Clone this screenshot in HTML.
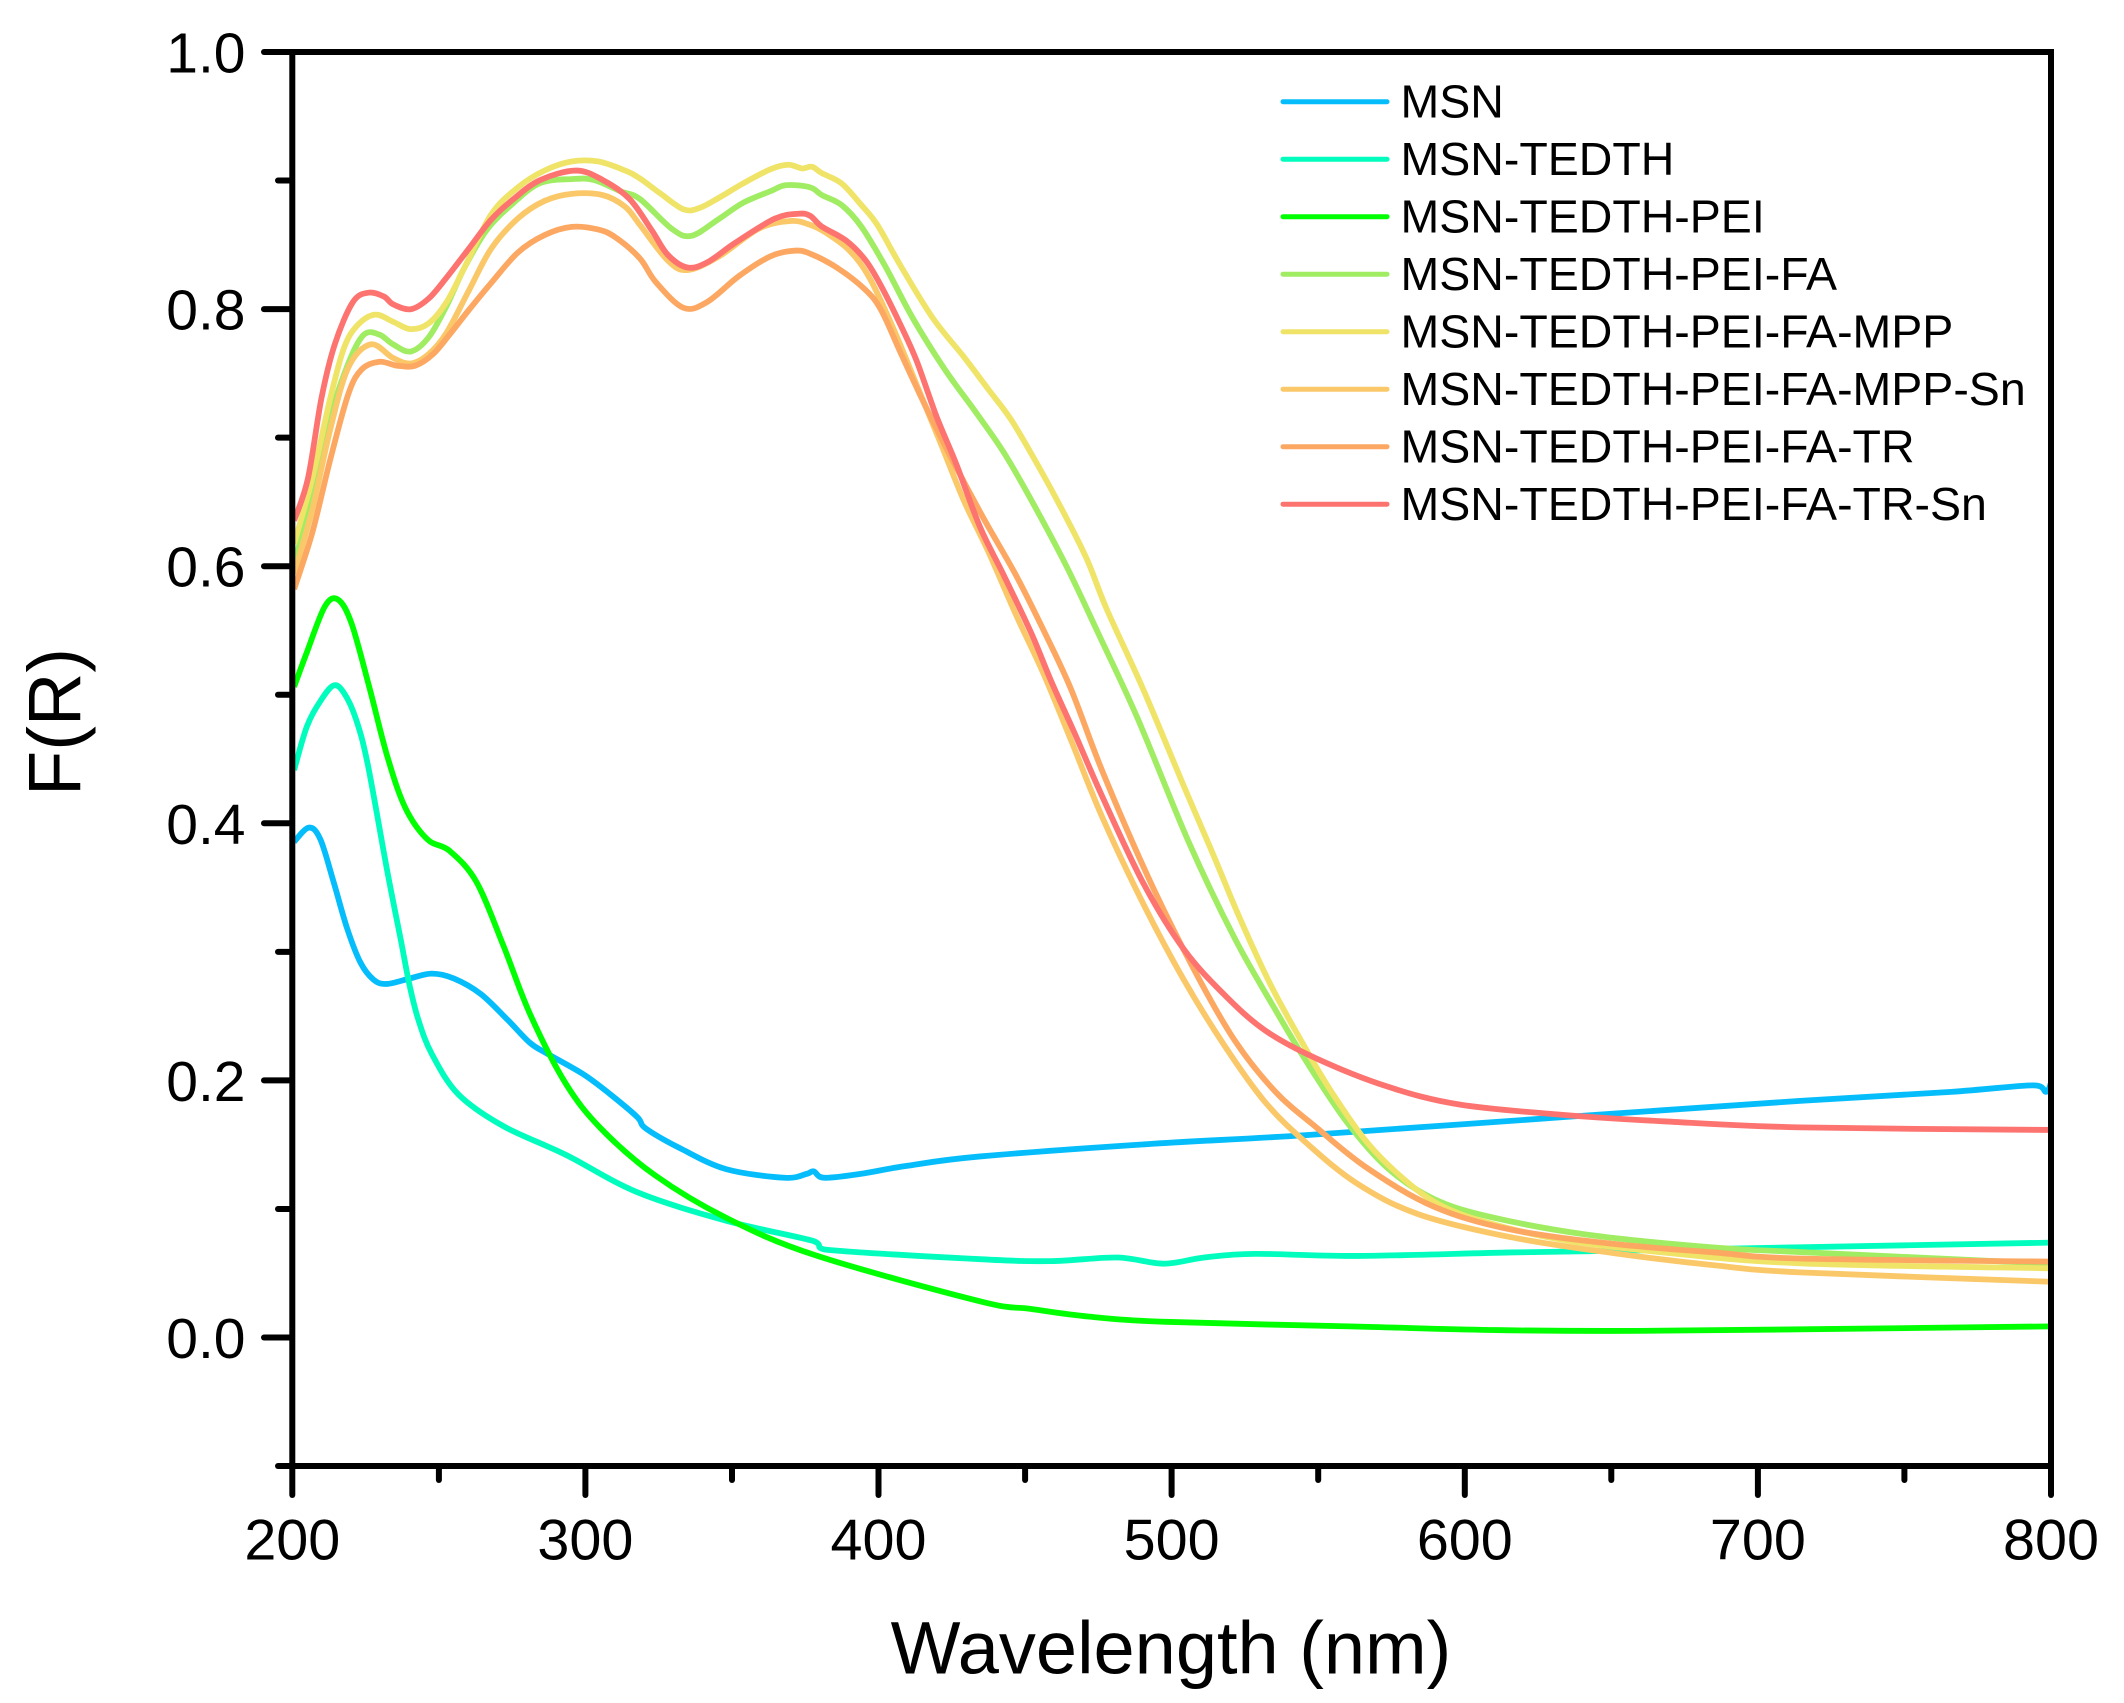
<!DOCTYPE html>
<html>
<head>
<meta charset="utf-8">
<style>
  html, body { margin: 0; padding: 0; background: #ffffff; }
  svg { display: block; }
  text { font-family: "Liberation Sans", Arial, sans-serif; fill: #000; }
</style>
</head>
<body>
<svg id="chart" xmlns="http://www.w3.org/2000/svg" width="2124" height="1703" viewBox="0 0 2124 1703">
  <rect x="0" y="0" width="2124" height="1703" fill="#ffffff"/>
  <defs>
    <clipPath id="plotclip">
      <rect x="292.3" y="52" width="1758.7" height="1414"/>
    </clipPath>
  </defs>
  <g id="curves" clip-path="url(#plotclip)" fill="none" stroke-width="5.8" stroke-linejoin="round"></g>

  <!-- frame -->
  <path d="M292.3 52 L2051 52 L2051 1466 L292.3 1466 Z" fill="none" stroke="#000" stroke-width="6" stroke-linejoin="miter"/>

  <!-- y ticks -->
  <g stroke="#000" stroke-width="6" stroke-linecap="round">
    <line x1="264" y1="52" x2="292" y2="52"/>
    <line x1="264" y1="309.1" x2="292" y2="309.1"/>
    <line x1="264" y1="566.2" x2="292" y2="566.2"/>
    <line x1="264" y1="823.3" x2="292" y2="823.3"/>
    <line x1="264" y1="1080.4" x2="292" y2="1080.4"/>
    <line x1="264" y1="1337.5" x2="292" y2="1337.5"/>
    <line x1="278" y1="180.55" x2="292" y2="180.55"/>
    <line x1="278" y1="437.65" x2="292" y2="437.65"/>
    <line x1="278" y1="694.75" x2="292" y2="694.75"/>
    <line x1="278" y1="951.85" x2="292" y2="951.85"/>
    <line x1="278" y1="1208.95" x2="292" y2="1208.95"/>
    <line x1="278" y1="1466" x2="292" y2="1466"/>
  </g>
  <!-- x ticks -->
  <g stroke="#000" stroke-width="6" stroke-linecap="round">
    <line x1="292.3" y1="1466" x2="292.3" y2="1495"/>
    <line x1="585.4" y1="1466" x2="585.4" y2="1495"/>
    <line x1="878.5" y1="1466" x2="878.5" y2="1495"/>
    <line x1="1171.6" y1="1466" x2="1171.6" y2="1495"/>
    <line x1="1464.8" y1="1466" x2="1464.8" y2="1495"/>
    <line x1="1757.9" y1="1466" x2="1757.9" y2="1495"/>
    <line x1="2051" y1="1466" x2="2051" y2="1495"/>
    <line x1="438.9" y1="1466" x2="438.9" y2="1480"/>
    <line x1="732" y1="1466" x2="732" y2="1480"/>
    <line x1="1025.1" y1="1466" x2="1025.1" y2="1480"/>
    <line x1="1318.2" y1="1466" x2="1318.2" y2="1480"/>
    <line x1="1611.3" y1="1466" x2="1611.3" y2="1480"/>
    <line x1="1904.4" y1="1466" x2="1904.4" y2="1480"/>
  </g>

  <!-- y tick labels -->
  <g font-size="57" text-anchor="end">
    <text x="245.5" y="72.5">1.0</text>
    <text x="245.5" y="329.6">0.8</text>
    <text x="245.5" y="586.7">0.6</text>
    <text x="245.5" y="843.8">0.4</text>
    <text x="245.5" y="1100.9">0.2</text>
    <text x="245.5" y="1358">0.0</text>
  </g>
  <!-- x tick labels -->
  <g font-size="57.5" text-anchor="middle">
    <text x="292.3" y="1559.5">200</text>
    <text x="585.4" y="1559.5">300</text>
    <text x="878.5" y="1559.5">400</text>
    <text x="1171.6" y="1559.5">500</text>
    <text x="1464.8" y="1559.5">600</text>
    <text x="1757.9" y="1559.5">700</text>
    <text x="2051" y="1559.5">800</text>
  </g>

  <!-- axis titles -->
  <text x="1171" y="1673.5" font-size="74" text-anchor="middle">Wavelength (nm)</text>
  <text transform="translate(80,722) rotate(-90)" font-size="74" text-anchor="middle">F(R)</text>

  <!-- legend -->
  <g stroke-width="5" stroke-linecap="round">
    <line x1="1283" y1="101.7" x2="1387" y2="101.7" stroke="#05BDFB"/>
    <line x1="1283" y1="159.2" x2="1387" y2="159.2" stroke="#00FDBE"/>
    <line x1="1283" y1="216.7" x2="1387" y2="216.7" stroke="#00FF00"/>
    <line x1="1283" y1="274.2" x2="1387" y2="274.2" stroke="#A0EC62"/>
    <line x1="1283" y1="331.7" x2="1387" y2="331.7" stroke="#EFE468"/>
    <line x1="1283" y1="389.2" x2="1387" y2="389.2" stroke="#FAC868"/>
    <line x1="1283" y1="446.7" x2="1387" y2="446.7" stroke="#FCA862"/>
    <line x1="1283" y1="504.2" x2="1387" y2="504.2" stroke="#FD7370"/>
  </g>
  <g font-size="46.5">
    <text x="1400.5" y="117.7">MSN</text>
    <text x="1400.5" y="175.2">MSN-TEDTH</text>
    <text x="1400.5" y="232.7">MSN-TEDTH-PEI</text>
    <text x="1400.5" y="290.2">MSN-TEDTH-PEI-FA</text>
    <text x="1400.5" y="347.7">MSN-TEDTH-PEI-FA-MPP</text>
    <text x="1400.5" y="405.2">MSN-TEDTH-PEI-FA-MPP-Sn</text>
    <text x="1400.5" y="462.7">MSN-TEDTH-PEI-FA-TR</text>
    <text x="1400.5" y="520.2">MSN-TEDTH-PEI-FA-TR-Sn</text>
  </g>
</svg>
<script>
(function(){
  var series = [
    {c:"#05BDFB", adj:435, d:[[200,0.391],[205,0.402],[208.9,0.393],[213.4,0.36],[218,0.324],[222.5,0.2977],[227,0.2843],[231.5,0.281],[239.2,0.2852],[246.7,0.289],[254.3,0.2852],[263.4,0.2732],[272.5,0.2532],[280.1,0.2354],[286,0.227],[298.3,0.211],[307.4,0.1955],[316.5,0.178],[319.5,0.169],[331.6,0.1532],[346.8,0.1376],[366.5,0.131],[374,0.134],[376.4,0.136],[380,0.131],[392.3,0.134],[407.4,0.14],[432.9,0.1475],[491.6,0.1548],[543.6,0.1615],[630.2,0.1753],[711.3,0.188],[762.6,0.195],[790.5,0.2],[794.8,0.195],[796.5,0.202]]},
    {c:"#00FDBE", adj:435, d:[[200,0.4465],[204.3,0.48],[208.9,0.4998],[213.4,0.512],[217,0.506],[221,0.486],[225,0.451],[231.6,0.3687],[236.2,0.3154],[239.2,0.28],[242.2,0.2532],[246.8,0.2266],[255.8,0.1955],[271,0.171],[292.2,0.1488],[316.5,0.1198],[346.8,0.0977],[376.4,0.082],[380.1,0.0755],[432.9,0.068],[457,0.064],[479.5,0.0668],[495.1,0.062],[509,0.0668],[526.3,0.0696],[560.9,0.068],[612.9,0.0707],[647.6,0.0719],[711.3,0.0747],[796.5,0.0783]]},
    {c:"#00FF00", adj:435, d:[[200,0.511],[204.3,0.5375],[210.4,0.573],[214.9,0.5785],[219.5,0.56],[225.5,0.511],[231.6,0.4575],[237.7,0.4176],[245.2,0.393],[252.8,0.384],[261.9,0.36],[271,0.311],[280.1,0.2577],[292.2,0.204],[304.3,0.1688],[322.5,0.133],[346.8,0.0999],[377,0.071],[432.9,0.0354],[450,0.027],[470,0.021],[496,0.017],[560,0.0134],[606,0.0107],[656,0.01],[753,0.0123],[796.5,0.0135]]},
    {c:"#A0EC62", adj:0, d:[[200,0.6046],[206.2,0.6554],[212.3,0.717],[218.4,0.7587],[223.7,0.781],[229,0.781],[233.6,0.7735],[239.6,0.768],[245.7,0.779],[251.7,0.803],[257.8,0.8327],[265.4,0.862],[274.5,0.883],[283.6,0.8984],[294.2,0.9014],[301.7,0.9008],[310.8,0.892],[317.4,0.886],[328.2,0.863],[334.9,0.8575],[344.3,0.8707],[352.4,0.883],[361.7,0.892],[367.1,0.8967],[375.2,0.895],[379.2,0.889],[385.9,0.8813],[392.6,0.8646],[400.7,0.834],[410,0.794],[420.8,0.7545],[431.5,0.7208],[440.9,0.69],[451,0.65],[462.4,0.601],[473.2,0.549],[486.5,0.4834],[503.7,0.3885],[519.4,0.3136],[533.2,0.2583],[543.6,0.2188],[557.5,0.1714],[571.3,0.1359],[586.9,0.1122],[606,0.0983],[638.9,0.0845],[682.1,0.0745],[711.3,0.071],[796.5,0.062]]},
    {c:"#EFE468", adj:0, d:[[200,0.619],[206.2,0.67],[212.3,0.732],[216.9,0.7705],[221.4,0.788],[227.5,0.7965],[233.6,0.791],[239.6,0.7853],[245.7,0.7898],[251.7,0.806],[257.8,0.8327],[266.9,0.874],[276,0.895],[285,0.908],[294.2,0.915],[303.3,0.915],[312.4,0.908],[317.4,0.9019],[324.2,0.8905],[332.2,0.878],[337.6,0.879],[344.3,0.887],[352.4,0.898],[361.7,0.909],[367.8,0.9125],[372.5,0.9096],[375.8,0.911],[379.2,0.906],[385.9,0.898],[392.6,0.8813],[398,0.866],[406,0.834],[416.8,0.794],[427.5,0.7635],[435.6,0.739],[443.6,0.7146],[453,0.678],[461.1,0.644],[469.1,0.6075],[476,0.568],[488.2,0.507],[502,0.432],[512.4,0.3767],[521.1,0.3293],[531.5,0.278],[541.9,0.2346],[552.2,0.195],[564.4,0.1556],[576.5,0.128],[588.6,0.108],[604.2,0.0944],[630.2,0.0806],[664.9,0.0707],[711.3,0.0623],[796.5,0.0584]]},
    {c:"#FAC868", adj:0, d:[[200,0.5957],[206.2,0.646],[212.3,0.708],[218.4,0.7556],[226,0.7735],[233.6,0.763],[239.6,0.7587],[245.7,0.766],[251.7,0.7823],[259.3,0.815],[266.9,0.8475],[276,0.871],[285,0.8845],[294.2,0.89],[304.8,0.889],[312.4,0.88],[317.4,0.866],[326.8,0.8386],[333.5,0.831],[344.3,0.8416],[357.7,0.863],[368.5,0.869],[375.2,0.866],[380.5,0.86],[388.6,0.846],[395.4,0.8248],[403.4,0.786],[411.4,0.742],[419.5,0.697],[427.5,0.652],[435.6,0.6136],[445,0.5647],[454.4,0.5188],[463.8,0.467],[474.3,0.408],[488.2,0.341],[502,0.282],[515.9,0.2307],[529.7,0.187],[543.6,0.1556],[560.9,0.124],[581.7,0.1003],[612.9,0.0826],[647.6,0.0703],[682.1,0.0608],[711.3,0.0553],[796.5,0.048]]},
    {c:"#FCA862", adj:0, d:[[200,0.584],[206.2,0.628],[212.3,0.6846],[218.4,0.735],[222.9,0.754],[229,0.76],[235,0.757],[241.1,0.757],[247.2,0.766],[253.2,0.7823],[259.3,0.8],[266.9,0.821],[276,0.8446],[285,0.858],[294.2,0.8644],[303.3,0.8623],[309.3,0.856],[317.4,0.84],[322.8,0.8217],[332.2,0.8018],[340.3,0.8064],[351,0.8263],[361.7,0.8416],[369.8,0.846],[375.2,0.8437],[384.6,0.8324],[394,0.8156],[399.3,0.8],[406,0.7666],[414.1,0.7269],[423.5,0.684],[434.3,0.638],[445,0.5952],[454.4,0.5525],[463.8,0.5065],[474.3,0.4438],[490,0.361],[505.5,0.2898],[519.4,0.2346],[533.2,0.195],[547.1,0.1674],[564.4,0.1359],[586.9,0.1062],[612.9,0.0885],[647.6,0.0774],[682.1,0.0707],[711.3,0.066],[796.5,0.0636]]},
    {c:"#FD7370", adj:0, d:[[200,0.637],[204.7,0.6697],[209.3,0.732],[213.8,0.7735],[219.9,0.806],[225.2,0.8135],[230.5,0.8105],[233.6,0.8045],[239.6,0.8007],[245.7,0.809],[251.7,0.825],[259.3,0.8475],[266.9,0.87],[274.5,0.886],[283.6,0.9007],[295.7,0.908],[304.8,0.9007],[313.9,0.886],[321.5,0.8615],[326.8,0.843],[333.5,0.833],[340.3,0.837],[349.7,0.852],[363.1,0.8707],[371.2,0.8746],[375.2,0.873],[379.2,0.8646],[387.3,0.854],[394,0.8386],[399.3,0.8187],[406,0.788],[411.4,0.7605],[418.1,0.7177],[424.8,0.681],[432.9,0.632],[440.9,0.595],[450.4,0.5494],[457,0.513],[465.1,0.472],[474.3,0.424],[488.2,0.357],[502,0.3056],[515.9,0.27],[529.7,0.2425],[547.1,0.2208],[571.3,0.199],[595.6,0.1852],[630.2,0.1773],[664.9,0.1722],[711.3,0.1675],[796.5,0.1655]]}
  ];
  function mx(nm){ return 294.1 + (nm-200)*2.9454; }
  function my(v){ return 1343.8 - 1292.1*v; }
  var g = document.getElementById('curves');
  var ns = "http://www.w3.org/2000/svg";
  series.forEach(function(s){
    var p = s.d.map(function(q){
      var v = q[1];
      if (s.adj && q[0] < s.adj) v -= 0.0025;
      return [mx(q[0]), my(v)];
    });
    var d = "M" + p[0][0].toFixed(2) + " " + p[0][1].toFixed(2);
    for (var i=0;i<p.length-1;i++){
      var p0 = p[i>0?i-1:i], p1 = p[i], p2 = p[i+1], p3 = p[i+2<p.length?i+2:i+1];
      var c1x = p1[0] + (p2[0]-p0[0])/6, c1y = p1[1] + (p2[1]-p0[1])/6;
      var c2x = p2[0] - (p3[0]-p1[0])/6, c2y = p2[1] - (p3[1]-p1[1])/6;
      if (c1x > p2[0]) c1x = p2[0];
      if (c2x < p1[0]) c2x = p1[0];
      d += " C" + c1x.toFixed(2) + " " + c1y.toFixed(2) + " " + c2x.toFixed(2) + " " + c2y.toFixed(2) + " " + p2[0].toFixed(2) + " " + p2[1].toFixed(2);
    }
    var path = document.createElementNS(ns, "path");
    path.setAttribute("d", d);
    path.setAttribute("stroke", s.c);
    g.appendChild(path);
  });
})();
</script>
</body>
</html>
